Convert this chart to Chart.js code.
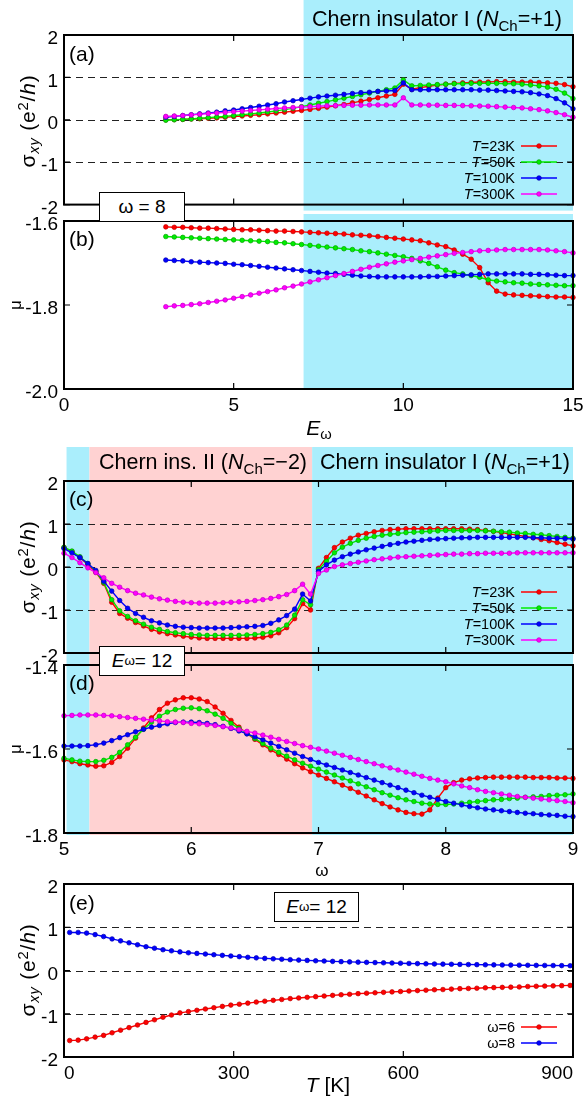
<!DOCTYPE html>
<html>
<head>
<meta charset="utf-8">
<script src="https://cdn.jsdelivr.net/npm/chart.js"></script>
<style>
  html, body { margin: 0; padding: 0; width: 584px; height: 1102px; overflow: hidden; background: #fff; }
  body { position: relative; font-family: "Liberation Sans", Arial, Helvetica, sans-serif; color: #000; }
  canvas { position: absolute; left: 0; }
  .t { position: absolute; white-space: nowrap; line-height: 1; z-index: 10; transform: translate(-50%, -50%); }
  .rot { transform: translate(-50%, -50%) rotate(-90deg); }
  .lg { position: absolute; right: 69px; white-space: nowrap; line-height: 1; z-index: 10; transform: translateY(-50%); font-size: 14.5px; }
  .box { position: absolute; z-index: 12; background: #fff; border: 1.5px solid #000; box-sizing: border-box;
         display: flex; align-items: center; justify-content: center; font-size: 19px; white-space: nowrap; }
  .pl { position: absolute; z-index: 10; font-size: 21px; line-height: 1; transform: translateY(-50%); }
  sub { font-size: 0.7em; vertical-align: -0.3em; line-height: 0; }
  sup { font-size: 0.7em; vertical-align: 0.45em; line-height: 0; }
</style>
</head>
<body>
<canvas id="cA" width="600" height="222" style="top:0px"></canvas>
<canvas id="cB" width="600" height="250" style="top:190px"></canvas>
<canvas id="cC" width="600" height="240" style="top:440px"></canvas>
<canvas id="cD" width="600" height="240" style="top:640px"></canvas>
<canvas id="cE" width="600" height="242" style="top:860px"></canvas>

<!-- region labels -->
<div class="t" style="left:437px; top:20px; font-size:21.5px">Chern insulator I (<i>N</i><sub>Ch</sub>=+1)</div>
<div class="t" style="left:203px; top:463px; font-size:21.5px">Chern ins. II (<i>N</i><sub>Ch</sub>=−2)</div>
<div class="t" style="left:445px; top:463px; font-size:21.5px">Chern insulator I (<i>N</i><sub>Ch</sub>=+1)</div>

<!-- panel letters -->
<div class="pl" style="left:69px; top:53px">(a)</div>
<div class="pl" style="left:69px; top:238px">(b)</div>
<div class="pl" style="left:69px; top:498px">(c)</div>
<div class="pl" style="left:69px; top:682px">(d)</div>
<div class="pl" style="left:69px; top:902px">(e)</div>

<!-- axis titles -->
<div class="t rot" style="left:27px; top:121px; font-size:21px; letter-spacing:0.8px">σ<sub><i>xy</i></sub> (e<sup>2</sup>/<i>h</i>)</div>
<div class="t rot" style="left:15px; top:305px; font-size:17px">μ</div>
<div class="t rot" style="left:27px; top:567px; font-size:21px; letter-spacing:0.8px">σ<sub><i>xy</i></sub> (e<sup>2</sup>/<i>h</i>)</div>
<div class="t rot" style="left:15px; top:749px; font-size:17px">μ</div>
<div class="t rot" style="left:27px; top:970px; font-size:21px; letter-spacing:0.8px">σ<sub><i>xy</i></sub> (e<sup>2</sup>/<i>h</i>)</div>
<div class="t" style="left:319px; top:427px; font-size:21px"><i>E</i><sub>ω</sub></div>
<div class="t" style="left:322px; top:870px; font-size:17px">ω</div>
<div class="t" style="left:328px; top:1084px; font-size:21px"><i>T</i> [K]</div>

<!-- boxed annotations -->
<div class="box" style="left:99px; top:192px; width:86px; height:30px">ω = 8</div>
<div class="box" style="left:99px; top:646px; width:86px; height:30px"><i>E</i><sub>ω</sub>= 12</div>
<div class="box" style="left:274px; top:892px; width:85px; height:30px"><i>E</i><sub>ω</sub>= 12</div>

<!-- legend text -->
<div class="lg" style="top:146px"><i>T</i>=23K</div>
<div class="lg" style="top:162px"><i>T</i>=50K</div>
<div class="lg" style="top:178px"><i>T</i>=100K</div>
<div class="lg" style="top:194px"><i>T</i>=300K</div>
<div class="lg" style="top:592px"><i>T</i>=23K</div>
<div class="lg" style="top:608px"><i>T</i>=50K</div>
<div class="lg" style="top:624px"><i>T</i>=100K</div>
<div class="lg" style="top:640px"><i>T</i>=300K</div>
<div class="lg" style="top:1027px">ω=6</div>
<div class="lg" style="top:1043px">ω=8</div>

<script>
// ---- data ----
const eField = [3, 3.25, 3.5, 3.75, 4, 4.25, 4.5, 4.75, 5, 5.25, 5.5, 5.75, 6, 6.25, 6.5, 6.75,
  7, 7.25, 7.5, 7.75, 8, 8.25, 8.5, 8.75, 9, 9.25, 9.5, 9.75, 10, 10.25, 10.5, 10.75,
  11, 11.25, 11.5, 11.75, 12, 12.25, 12.5, 12.75, 13, 13.25, 13.5, 13.75, 14, 14.25, 14.5, 14.75, 15];

const sigmaA23 = [0.00, 0.005, 0.01, 0.02, 0.025, 0.035, 0.045, 0.06, 0.075, 0.09, 0.105, 0.12, 0.14, 0.16, 0.18, 0.20,
  0.22, 0.245, 0.27, 0.30, 0.33, 0.36, 0.40, 0.44, 0.48, 0.52, 0.56, 0.60, 0.84, 0.72, 0.76, 0.79,
  0.82, 0.84, 0.86, 0.87, 0.88, 0.89, 0.89, 0.90, 0.90, 0.89, 0.89, 0.89, 0.88, 0.87, 0.86, 0.83, 0.78];
const sigmaA50 = [-0.01, 0.00, 0.01, 0.02, 0.035, 0.05, 0.065, 0.08, 0.10, 0.12, 0.14, 0.16, 0.185, 0.21, 0.24, 0.27,
  0.31, 0.35, 0.39, 0.43, 0.47, 0.51, 0.55, 0.59, 0.63, 0.67, 0.71, 0.75, 0.94, 0.80, 0.81, 0.82,
  0.83, 0.84, 0.85, 0.85, 0.86, 0.86, 0.86, 0.86, 0.85, 0.85, 0.84, 0.82, 0.80, 0.77, 0.72, 0.63, 0.50];
const sigmaA100 = [0.06, 0.08, 0.10, 0.12, 0.14, 0.16, 0.18, 0.21, 0.23, 0.26, 0.29, 0.32, 0.35, 0.38, 0.42, 0.45,
  0.48, 0.51, 0.54, 0.56, 0.58, 0.60, 0.62, 0.64, 0.65, 0.67, 0.68, 0.69, 0.87, 0.71, 0.71, 0.71,
  0.71, 0.71, 0.71, 0.71, 0.71, 0.70, 0.70, 0.69, 0.68, 0.67, 0.66, 0.64, 0.61, 0.57, 0.50, 0.40, 0.26];
const sigmaA300 = [0.08, 0.09, 0.10, 0.115, 0.13, 0.145, 0.16, 0.175, 0.19, 0.205, 0.22, 0.235, 0.25, 0.265, 0.28, 0.29,
  0.30, 0.31, 0.32, 0.33, 0.335, 0.34, 0.345, 0.345, 0.35, 0.35, 0.35, 0.35, 0.52, 0.35, 0.35, 0.345,
  0.345, 0.34, 0.34, 0.335, 0.33, 0.325, 0.32, 0.31, 0.30, 0.29, 0.28, 0.26, 0.24, 0.21, 0.17, 0.12, 0.06];

const muB23 = [-1.614, -1.615, -1.615, -1.616, -1.617, -1.617, -1.618, -1.619, -1.620, -1.621, -1.621, -1.622, -1.623, -1.624, -1.624, -1.625,
  -1.626, -1.627, -1.628, -1.629, -1.630, -1.631, -1.633, -1.634, -1.635, -1.637, -1.639, -1.641, -1.643, -1.645, -1.647, -1.652,
  -1.657, -1.661, -1.669, -1.679, -1.691, -1.711, -1.747, -1.767, -1.774, -1.776, -1.777, -1.778, -1.779, -1.780, -1.781, -1.781, -1.782];
const muB50 = [-1.637, -1.638, -1.639, -1.640, -1.641, -1.642, -1.643, -1.644, -1.645, -1.646, -1.647, -1.648, -1.649, -1.651, -1.652, -1.654,
  -1.656, -1.658, -1.660, -1.662, -1.664, -1.666, -1.668, -1.671, -1.673, -1.676, -1.679, -1.682, -1.685, -1.689, -1.695, -1.701,
  -1.709, -1.717, -1.723, -1.726, -1.730, -1.734, -1.740, -1.743, -1.745, -1.747, -1.748, -1.750, -1.751, -1.752, -1.753, -1.754, -1.754];
const muB100 = [-1.693, -1.694, -1.695, -1.697, -1.698, -1.699, -1.700, -1.701, -1.703, -1.704, -1.706, -1.708, -1.710, -1.712, -1.714, -1.716,
  -1.718, -1.720, -1.722, -1.724, -1.725, -1.727, -1.729, -1.731, -1.732, -1.733, -1.733, -1.733, -1.733, -1.733, -1.733, -1.732,
  -1.732, -1.731, -1.730, -1.729, -1.728, -1.727, -1.726, -1.726, -1.726, -1.726, -1.726, -1.727, -1.727, -1.728, -1.729, -1.730, -1.730];
const muB300 = [-1.804, -1.802, -1.801, -1.799, -1.797, -1.794, -1.791, -1.788, -1.784, -1.780, -1.776, -1.772, -1.768, -1.764, -1.759, -1.755,
  -1.750, -1.745, -1.740, -1.735, -1.730, -1.725, -1.720, -1.715, -1.710, -1.706, -1.702, -1.698, -1.695, -1.692, -1.689, -1.686,
  -1.683, -1.680, -1.677, -1.675, -1.673, -1.671, -1.670, -1.669, -1.668, -1.668, -1.668, -1.668, -1.668, -1.669, -1.671, -1.673, -1.676];

const omega = [5, 5.0625, 5.125, 5.1875, 5.25, 5.3125, 5.375, 5.4375,
  5.5, 5.5625, 5.625, 5.6875, 5.75, 5.8125, 5.875, 5.9375,
  6, 6.0625, 6.125, 6.1875, 6.25, 6.3125, 6.375, 6.4375,
  6.5, 6.5625, 6.625, 6.6875, 6.75, 6.8125, 6.875, 6.9375,
  7, 7.0625, 7.125, 7.1875, 7.25, 7.3125, 7.375, 7.4375,
  7.5, 7.5625, 7.625, 7.6875, 7.75, 7.8125, 7.875, 7.9375,
  8, 8.0625, 8.125, 8.1875, 8.25, 8.3125, 8.375, 8.4375,
  8.5, 8.5625, 8.625, 8.6875, 8.75, 8.8125, 8.875, 8.9375, 9];

const sigmaC23 = [0.45, 0.36, 0.22, 0.05, -0.12, -0.38, -0.82, -1.08,
  -1.19, -1.29, -1.37, -1.45, -1.51, -1.55, -1.58, -1.61,
  -1.63, -1.65, -1.66, -1.66, -1.66, -1.66, -1.66, -1.66,
  -1.65, -1.635, -1.60, -1.53, -1.41, -1.20, -0.85, -1.00,
  -0.03, 0.22, 0.45, 0.58, 0.67, 0.74, 0.78, 0.82,
  0.85, 0.87, 0.88, 0.89, 0.89, 0.89, 0.89, 0.89,
  0.89, 0.89, 0.89, 0.88, 0.87, 0.85, 0.83, 0.80,
  0.77, 0.74, 0.71, 0.68, 0.64, 0.61, 0.57, 0.53, 0.49];
const sigmaC50 = [0.46, 0.37, 0.24, 0.08, -0.10, -0.36, -0.76, -1.02,
  -1.15, -1.25, -1.33, -1.40, -1.45, -1.50, -1.53, -1.55,
  -1.57, -1.58, -1.59, -1.59, -1.59, -1.59, -1.59, -1.58,
  -1.57, -1.55, -1.52, -1.46, -1.35, -1.12, -0.76, -0.88,
  -0.06, 0.13, 0.33, 0.46, 0.55, 0.62, 0.67, 0.71,
  0.74, 0.76, 0.78, 0.80, 0.81, 0.82, 0.83, 0.84,
  0.85, 0.85, 0.85, 0.85, 0.85, 0.84, 0.83, 0.82,
  0.81, 0.79, 0.78, 0.76, 0.75, 0.73, 0.71, 0.69, 0.67];
const sigmaC100 = [0.43, 0.33, 0.22, 0.08, -0.08, -0.33, -0.56, -0.78,
  -0.96, -1.08, -1.17, -1.25, -1.30, -1.35, -1.38, -1.40,
  -1.41, -1.42, -1.42, -1.42, -1.42, -1.41, -1.40, -1.39,
  -1.38, -1.36, -1.31, -1.23, -1.13, -0.98, -0.63, -0.79,
  -0.10, 0.05, 0.16, 0.24, 0.30, 0.35, 0.40, 0.44,
  0.48, 0.52, 0.55, 0.58, 0.60, 0.62, 0.64, 0.65,
  0.66, 0.67, 0.68, 0.68, 0.69, 0.69, 0.69, 0.69,
  0.69, 0.69, 0.69, 0.68, 0.68, 0.67, 0.67, 0.66, 0.65];
const sigmaC300 = [0.32, 0.22, 0.10, -0.02, -0.13, -0.25, -0.38, -0.47,
  -0.55, -0.61, -0.65, -0.70, -0.74, -0.77, -0.80, -0.82,
  -0.83, -0.84, -0.84, -0.84, -0.83, -0.82, -0.81, -0.80,
  -0.78, -0.76, -0.73, -0.69, -0.64, -0.55, -0.40, -0.63,
  -0.15, -0.07, 0.01, 0.05, 0.08, 0.11, 0.14, 0.17,
  0.19, 0.21, 0.23, 0.24, 0.25, 0.26, 0.27, 0.28,
  0.29, 0.30, 0.30, 0.31, 0.31, 0.32, 0.32, 0.32,
  0.32, 0.33, 0.33, 0.33, 0.33, 0.33, 0.33, 0.33, 0.33];

const muD23 = [-1.626, -1.630, -1.635, -1.638, -1.641, -1.640, -1.632, -1.618,
  -1.598, -1.574, -1.550, -1.526, -1.506, -1.491, -1.483, -1.478,
  -1.478, -1.481, -1.487, -1.500, -1.515, -1.532, -1.548, -1.563,
  -1.577, -1.590, -1.602, -1.613, -1.624, -1.635, -1.645, -1.654,
  -1.662, -1.670, -1.678, -1.686, -1.694, -1.703, -1.712, -1.721,
  -1.730, -1.738, -1.745, -1.751, -1.754, -1.755, -1.745, -1.717,
  -1.692, -1.680, -1.674, -1.671, -1.669, -1.668, -1.667, -1.667,
  -1.667, -1.667, -1.667, -1.668, -1.668, -1.668, -1.669, -1.669, -1.670];
const muD50 = [-1.622, -1.626, -1.629, -1.630, -1.630, -1.627, -1.620, -1.608,
  -1.590, -1.572, -1.553, -1.536, -1.522, -1.512, -1.506, -1.503,
  -1.502, -1.504, -1.509, -1.517, -1.527, -1.539, -1.551, -1.563,
  -1.575, -1.587, -1.598, -1.608, -1.617, -1.626, -1.634, -1.641,
  -1.648, -1.655, -1.662, -1.669, -1.676, -1.683, -1.690, -1.697,
  -1.704, -1.710, -1.716, -1.721, -1.725, -1.729, -1.731, -1.732,
  -1.732, -1.731, -1.729, -1.727, -1.725, -1.723, -1.721, -1.720,
  -1.718, -1.717, -1.715, -1.714, -1.713, -1.711, -1.710, -1.709, -1.707];
const muD100 = [-1.593, -1.593, -1.593, -1.592, -1.590, -1.586, -1.580, -1.573,
  -1.566, -1.559, -1.553, -1.548, -1.544, -1.540, -1.537, -1.536,
  -1.536, -1.537, -1.539, -1.542, -1.546, -1.551, -1.557, -1.564,
  -1.571, -1.578, -1.586, -1.594, -1.602, -1.610, -1.618, -1.625,
  -1.632, -1.638, -1.644, -1.650, -1.656, -1.662, -1.668, -1.674,
  -1.680, -1.686, -1.692, -1.698, -1.704, -1.710, -1.715, -1.720,
  -1.725, -1.729, -1.733, -1.737, -1.740, -1.743, -1.745, -1.747,
  -1.749, -1.751, -1.753, -1.754, -1.756, -1.757, -1.758, -1.760, -1.761];
const muD300 = [-1.521, -1.520, -1.519, -1.519, -1.519, -1.520, -1.521, -1.523,
  -1.525, -1.527, -1.529, -1.531, -1.533, -1.535, -1.536, -1.537,
  -1.539, -1.540, -1.542, -1.544, -1.547, -1.550, -1.554, -1.558,
  -1.562, -1.567, -1.572, -1.577, -1.582, -1.587, -1.592, -1.596,
  -1.600, -1.605, -1.610, -1.615, -1.620, -1.625, -1.630, -1.635,
  -1.640, -1.645, -1.650, -1.655, -1.660, -1.665, -1.670, -1.674,
  -1.678, -1.683, -1.688, -1.692, -1.697, -1.701, -1.704, -1.707,
  -1.710, -1.713, -1.715, -1.717, -1.719, -1.721, -1.723, -1.725, -1.728];

const temps = [10, 25, 40, 55, 70, 85, 100, 115, 130, 145,
  160, 175, 190, 205, 220, 235, 250, 265, 280, 295,
  310, 325, 340, 355, 370, 385, 400, 415, 430, 445,
  460, 475, 490, 505, 520, 535, 550, 565, 580, 595,
  610, 625, 640, 655, 670, 685, 700, 715, 730, 745,
  760, 775, 790, 805, 820, 835, 850, 865, 880, 895];
const sigmaW6 = [-1.62, -1.61, -1.58, -1.54, -1.50, -1.44, -1.38, -1.32, -1.26, -1.20,
  -1.14, -1.08, -1.03, -0.98, -0.95, -0.92, -0.89, -0.86, -0.83, -0.80,
  -0.78, -0.755, -0.73, -0.71, -0.69, -0.67, -0.65, -0.635, -0.62, -0.605,
  -0.59, -0.575, -0.56, -0.55, -0.535, -0.525, -0.515, -0.505, -0.495, -0.485,
  -0.475, -0.465, -0.455, -0.445, -0.44, -0.43, -0.42, -0.415, -0.41, -0.40,
  -0.395, -0.39, -0.385, -0.38, -0.37, -0.365, -0.36, -0.355, -0.35, -0.345];
const sigmaW8 = [0.88, 0.88, 0.865, 0.83, 0.785, 0.73, 0.685, 0.64, 0.595, 0.55,
  0.515, 0.48, 0.455, 0.43, 0.41, 0.395, 0.38, 0.365, 0.35, 0.335,
  0.32, 0.305, 0.292, 0.28, 0.27, 0.26, 0.25, 0.241, 0.233, 0.225,
  0.218, 0.211, 0.205, 0.199, 0.193, 0.188, 0.183, 0.178, 0.173, 0.168,
  0.163, 0.159, 0.155, 0.151, 0.147, 0.144, 0.141, 0.138, 0.135, 0.132,
  0.13, 0.127, 0.125, 0.123, 0.121, 0.119, 0.117, 0.115, 0.113, 0.111];

// phase boundaries
const topPhaseEdges = [7.06, 15];          // Chern insulator I, E_omega axis
const lowPhaseEdges = [5.02, 5.2, 6.95, 9]; // cyan | pink | cyan, omega axis
const sigmaGuides = [1, 0, -1];

// ---- styling ----
const CYAN = '#aaeefc';
const PINK = '#ffd2d2';
const tempColors = [['#ff0000', '#c00000'], ['#00ee00', '#00a000'], ['#0000ff', '#0000b0'], ['#ff00ff', '#c000c0']];
const FONT = '"Liberation Sans", Arial, Helvetica, sans-serif';
Chart.defaults.font.family = FONT;
Chart.defaults.color = '#000';

function series(label, xs, ys, colors, order) {
  return {
    label,
    data: xs.map((x, i) => ({x, y: ys[i]})),
    borderColor: colors[0], backgroundColor: colors[0], borderWidth: 1.4,
    pointRadius: 2.3, pointHoverRadius: 2.3, pointBackgroundColor: colors[0],
    pointBorderColor: colors[1], pointBorderWidth: 0.7,
    tension: 0, fill: false, clip: false, order
  };
}

function yAxis(min, max, step, digits) {
  return {
    type: 'linear', min, max,
    ticks: {stepSize: step, padding: 6, labelOffset: 4, font: {size: 19}, color: '#000',
            callback: (v) => digits ? Number(v).toFixed(digits) : String(Math.round(v))},
    grid: {display: false, drawTicks: false},
    border: {display: false},
    afterFit: (s) => { s.width = 64; }
  };
}

function xAxis(min, max, step, height, showLabels, align) {
  return {
    type: 'linear', min, max,
    ticks: {display: showLabels, stepSize: step, padding: 5, font: {size: 19}, color: '#000',
            maxRotation: 0, autoSkip: false, align: align || 'center', callback: (v) => String(v)},
    grid: {display: false, drawTicks: false},
    border: {display: false},
    afterFit: (s) => { s.height = height; }
  };
}

// shaded phase regions, spilling a little outside the plot box
function bandsPlugin(bands, above, below) {
  return {
    id: 'bands',
    beforeDraw(chart) {
      const {ctx, chartArea: a, scales: {x}} = chart;
      ctx.save();
      bands.forEach((b) => {
        const x0 = x.getPixelForValue(b.from);
        const x1 = x.getPixelForValue(b.to);
        ctx.fillStyle = b.color;
        ctx.fillRect(x0, a.top - above, x1 - x0, a.bottom - a.top + above + below);
      });
      ctx.restore();
    }
  };
}

function guidePlugin(levels) {
  return {
    id: 'guides',
    beforeDatasetsDraw(chart) {
      const {ctx, chartArea: a, scales: {y}} = chart;
      ctx.save();
      ctx.strokeStyle = '#222';
      ctx.lineWidth = 1.2;
      ctx.setLineDash([7, 5]);
      levels.forEach((v) => {
        const py = Math.round(y.getPixelForValue(v)) + 0.5;
        ctx.beginPath();
        ctx.moveTo(a.left, py);
        ctx.lineTo(a.right, py);
        ctx.stroke();
      });
      ctx.restore();
    }
  };
}

// box frame with inward mirrored ticks
const framePlugin = {
  id: 'frame',
  afterDatasetsDraw(chart) {
    const {ctx, chartArea: a, scales: {x, y}} = chart;
    ctx.save();
    ctx.strokeStyle = '#000';
    ctx.lineWidth = 1.2;
    ctx.beginPath();
    x.ticks.forEach((t) => {
      const px = x.getPixelForValue(t.value);
      ctx.moveTo(px, a.bottom); ctx.lineTo(px, a.bottom - 6);
      ctx.moveTo(px, a.top); ctx.lineTo(px, a.top + 6);
    });
    y.ticks.forEach((t) => {
      const py = y.getPixelForValue(t.value);
      ctx.moveTo(a.left, py); ctx.lineTo(a.left + 6, py);
      ctx.moveTo(a.right, py); ctx.lineTo(a.right - 6, py);
    });
    ctx.stroke();
    ctx.lineWidth = 2;
    ctx.strokeRect(a.left, a.top, a.right - a.left, a.bottom - a.top);
    ctx.restore();
  }
};

// legend samples (line + dot), text is in the page
function keyPlugin(rows, canvasTop) {
  return {
    id: 'key',
    afterDraw(chart) {
      const ctx = chart.ctx;
      ctx.save();
      chart.data.datasets.forEach((ds, i) => {
        const py = rows[i] - canvasTop;
        ctx.strokeStyle = ds.borderColor;
        ctx.lineWidth = 1.4;
        ctx.beginPath();
        ctx.moveTo(521, py); ctx.lineTo(557, py);
        ctx.stroke();
        ctx.fillStyle = ds.pointBackgroundColor;
        ctx.strokeStyle = ds.pointBorderColor;
        ctx.lineWidth = 0.7;
        ctx.beginPath();
        ctx.arc(539, py, 2.3, 0, Math.PI * 2);
        ctx.fill(); ctx.stroke();
      });
      ctx.restore();
    }
  };
}

function makeChart(id, datasets, scales, padding, plugins) {
  return new Chart(document.getElementById(id), {
    type: 'line',
    data: {datasets},
    options: {
      responsive: false, animation: false, devicePixelRatio: 1, events: [],
      layout: {padding},
      scales,
      plugins: {legend: {display: false}, tooltip: {enabled: false}}
    },
    plugins
  });
}

const topBands = [{from: topPhaseEdges[0], to: topPhaseEdges[1], color: CYAN}];
const lowBands = [
  {from: lowPhaseEdges[0], to: lowPhaseEdges[1], color: CYAN},
  {from: lowPhaseEdges[1], to: lowPhaseEdges[2], color: PINK},
  {from: lowPhaseEdges[2], to: lowPhaseEdges[3], color: CYAN}
];

// (a)
makeChart('cA', [
  series('T=23K', eField, sigmaA23, tempColors[0], 4),
  series('T=50K', eField, sigmaA50, tempColors[1], 3),
  series('T=100K', eField, sigmaA100, tempColors[2], 2),
  series('T=300K', eField, sigmaA300, tempColors[3], 1)
], {x: xAxis(0, 15, 5, 0, false), y: yAxis(-2, 2, 1, 0)},
  {top: 35, right: 27, bottom: 14, left: 0},
  [bandsPlugin(topBands, 35, 6), guidePlugin(sigmaGuides), framePlugin, keyPlugin([146, 162, 178, 194], 0)]);

// (b)
makeChart('cB', [
  series('T=23K', eField, muB23, tempColors[0], 4),
  series('T=50K', eField, muB50, tempColors[1], 3),
  series('T=100K', eField, muB100, tempColors[2], 2),
  series('T=300K', eField, muB300, tempColors[3], 1)
], {x: xAxis(0, 15, 5, 51, true), y: yAxis(-2, -1.6, 0.2, 1)},
  {top: 31, right: 27, bottom: 0, left: 0},
  [bandsPlugin(topBands, 7, 0), framePlugin]);

// (c)
makeChart('cC', [
  series('T=23K', omega, sigmaC23, tempColors[0], 4),
  series('T=50K', omega, sigmaC50, tempColors[1], 3),
  series('T=100K', omega, sigmaC100, tempColors[2], 2),
  series('T=300K', omega, sigmaC300, tempColors[3], 1)
], {x: xAxis(5, 9, 1, 0, false), y: yAxis(-2, 2, 1, 0)},
  {top: 41, right: 27, bottom: 27, left: 0},
  [bandsPlugin(lowBands, 34, 6), guidePlugin(sigmaGuides), framePlugin, keyPlugin([592, 608, 624, 640], 440)]);

// (d)
makeChart('cD', [
  series('T=23K', omega, muD23, tempColors[0], 4),
  series('T=50K', omega, muD50, tempColors[1], 3),
  series('T=100K', omega, muD100, tempColors[2], 2),
  series('T=300K', omega, muD300, tempColors[3], 1)
], {x: xAxis(5, 9, 1, 47, true), y: yAxis(-1.8, -1.4, 0.2, 1)},
  {top: 25, right: 27, bottom: 0, left: 0},
  [bandsPlugin(lowBands, 6, 2), framePlugin]);

// (e)
makeChart('cE', [
  series('ω=6', temps, sigmaW6, tempColors[0], 2),
  series('ω=8', temps, sigmaW8, tempColors[2], 1)
], {x: xAxis(0, 900, 300, 45, true, 'inner'), y: yAxis(-2, 2, 1, 0)},
  {top: 24, right: 27, bottom: 0, left: 0},
  [guidePlugin(sigmaGuides), framePlugin, keyPlugin([1027, 1043], 860)]);
</script>
</body>
</html>
